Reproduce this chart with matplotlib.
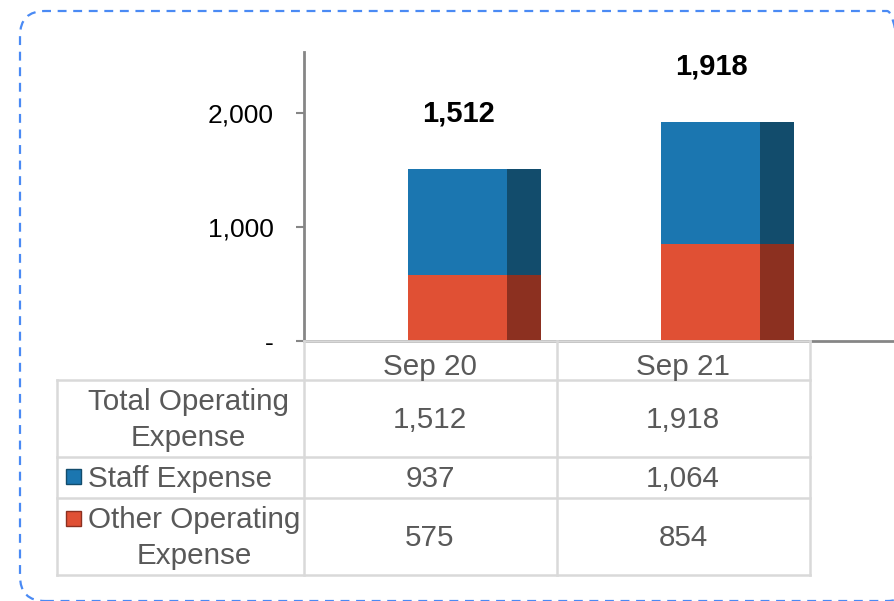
import matplotlib
matplotlib.use('Agg')
import matplotlib.pyplot as plt
from matplotlib.patches import FancyBboxPatch, Rectangle
from matplotlib.lines import Line2D
from matplotlib.transforms import IdentityTransform

plt.rcParams['font.family'] = ['Liberation Sans', 'DejaVu Sans']

# data
periods = ['Sep 20', 'Sep 21']
staff = [937, 1064]
other = [575, 854]
total = [1512, 1918]
row_labels = ['Total Operating\nExpense', 'Staff Expense', 'Other Operating\nExpense']
yticks = [0, 1000, 2000]
ytick_labels = ['-', '1,000', '2,000']

blue, blue_side = '#1b76b0', '#124c6c'
red, red_side = '#e05034', '#8c3020'
grid_c = '#d9d9d9'
txt_c = '#595959'

W, H = 895, 601
fig = plt.figure(figsize=(W / 100, H / 100), dpi=100)


def fx(x):
    return x / W


def fy(y):
    return 1 - y / H


# dashed rounded frame (pixel coordinates, origin bottom-left)
frame = FancyBboxPatch((20, H - 601), 912 - 20, 601 - 11,
                       boxstyle='round,pad=0,rounding_size=25',
                       transform=IdentityTransform(), fill=False,
                       edgecolor='#4a8af4', lw=1.6, ls=(0, (4, 3)),
                       clip_on=False)
fig.patches.append(frame)

# chart axes
ax = fig.add_axes([fx(304), fy(341), fx(895 - 304), (341 - 52) / H])
ax.set_xlim(0, (895 - 304) / 253)
ax.set_ylim(0, 2535)

front_off, front_w, side_w = 0.411, 0.391, 0.134
for i in range(len(periods)):
    x0 = i + front_off
    ax.bar(x0, other[i], width=front_w, align='edge', color=red, lw=0)
    ax.bar(x0, staff[i], bottom=other[i], width=front_w, align='edge', color=blue, lw=0)
    ax.bar(x0 + front_w, other[i], width=side_w, align='edge', color=red_side, lw=0)
    ax.bar(x0 + front_w, staff[i], bottom=other[i], width=side_w, align='edge', color=blue_side, lw=0)
    ax.annotate(f'{total[i]:,}', (i + 0.61, total[i]), xytext=(0, 40),
                textcoords='offset points', ha='center', va='center',
                fontsize=21, fontweight='bold', color='black')

ax.set_yticks(yticks)
ax.set_yticklabels(ytick_labels, fontsize=19, color='black')
ax.set_xticks([])
ax.tick_params(axis='y', length=6, width=1.5, color='#868686', pad=16)
for s in ['top', 'right']:
    ax.spines[s].set_visible(False)
ax.spines['left'].set_color('#868686')
ax.spines['left'].set_linewidth(2)
ax.spines['bottom'].set_color('#868686')
ax.spines['bottom'].set_linewidth(2)
ax.set_facecolor('none')

# data table below the chart
def hline(y, x0, x1):
    fig.add_artist(Line2D([fx(x0), fx(x1)], [fy(y), fy(y)], color=grid_c, lw=1.8))


def vline(x, y0, y1):
    fig.add_artist(Line2D([fx(x), fx(x)], [fy(y0), fy(y1)], color=grid_c, lw=1.8))


hline(341, 304, 810)
for y in [380, 457, 498, 575]:
    hline(y, 57, 810)
vline(57, 380, 575)
for x in [304, 557, 810]:
    vline(x, 341, 575)

col_x = [430, 683]
row_y = [420, 479, 538]
fs = 21.3
for j, p in enumerate(periods):
    fig.text(fx(col_x[j]), fy(367), p, ha='center', va='center', fontsize=fs, color=txt_c)

rows = [total, staff, other]
for r, lab in enumerate(row_labels):
    fig.text(fx(88), fy(row_y[r]), lab, ha='left', va='center', multialignment='center',
             fontsize=fs, color=txt_c, linespacing=1.32)
    for j in range(len(periods)):
        fig.text(fx(col_x[j]), fy(row_y[r]), f'{rows[r][j]:,}', ha='center', va='center',
                 fontsize=fs, color=txt_c)

# legend keys in the table
for yc, c, e in [(477, blue, blue_side), (519, red, red_side)]:
    fig.patches.append(Rectangle((fx(66), fy(yc + 7)), fx(15), 15 / H,
                                 transform=fig.transFigure, facecolor=c,
                                 edgecolor=e, lw=1))

fig.savefig('out.png', dpi=100)
